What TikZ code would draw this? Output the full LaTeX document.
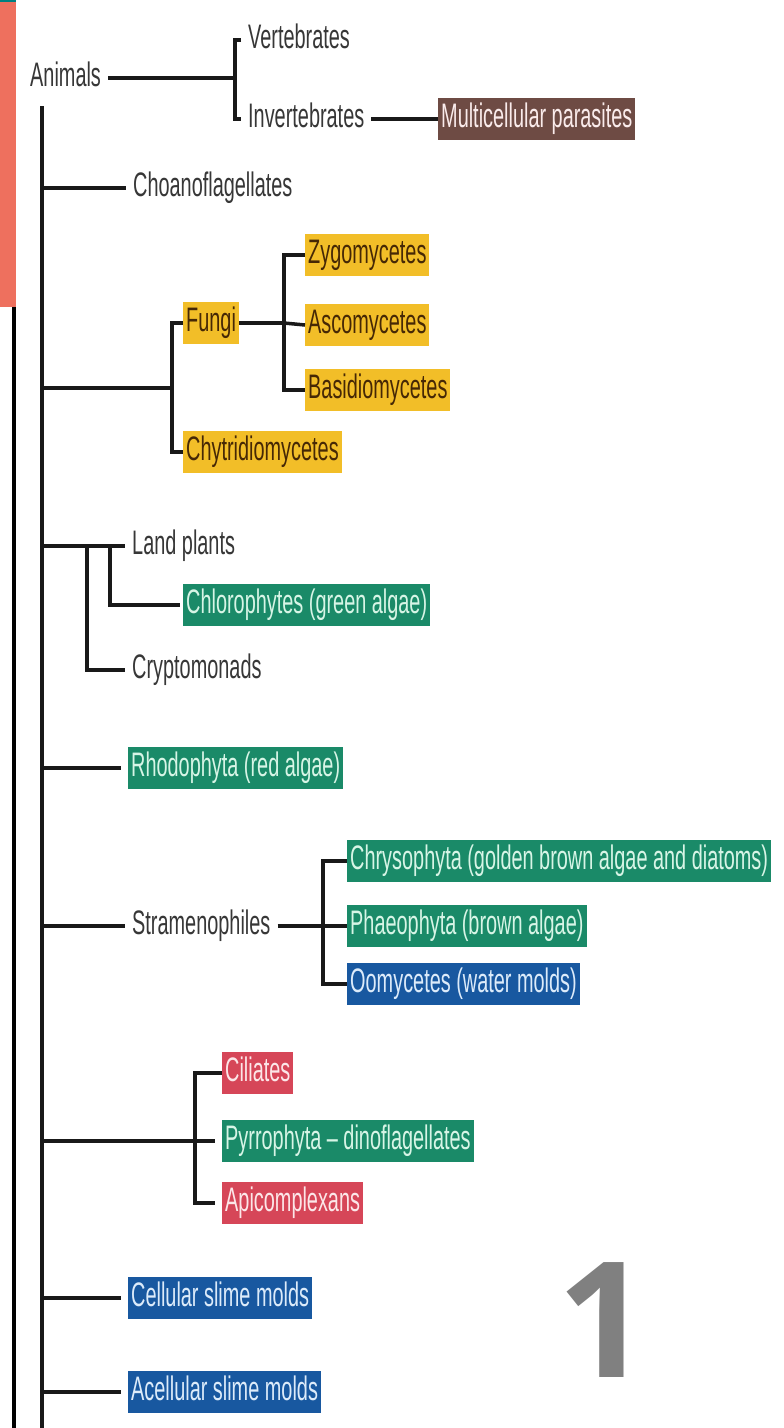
\documentclass[tikz,border=0pt]{standalone}
\usepackage{fontspec}
\setmainfont{Liberation Sans}[FakeStretch=0.585]
\newfontfamily\digitfont{Open Sans}
\definecolor{labelgray}{RGB}{55,55,55}
\definecolor{greenbox}{RGB}{26,138,104}
\definecolor{greentext}{RGB}{215,245,230}
\definecolor{bluebox}{RGB}{24,88,160}
\definecolor{bluetext}{RGB}{220,235,250}
\definecolor{redbox}{RGB}{214,70,88}
\definecolor{redtext}{RGB}{252,230,232}
\definecolor{goldbox}{RGB}{242,190,40}
\definecolor{goldtext}{RGB}{70,40,5}
\definecolor{brownbox}{RGB}{110,75,68}
\definecolor{browntext}{RGB}{250,235,235}
\definecolor{salmon}{RGB}{238,112,94}
\definecolor{digitgray}{RGB}{128,128,128}
\tikzset{
  lbl/.style={anchor=west, inner xsep=7pt, inner ysep=0pt, text height=24pt, text depth=7pt,
    text=labelgray, font=\fontsize{34}{34}\selectfont},
  tag/.style={lbl, inner xsep=3pt, inner ysep=5.5pt},
  greentag/.style={tag, fill=greenbox, text=greentext},
  bluetag/.style={tag, fill=bluebox, text=bluetext},
  redtag/.style={tag, fill=redbox, text=redtext},
  goldtag/.style={tag, fill=goldbox, text=goldtext},
  browntag/.style={tag, fill=brownbox, text=browntext},
  branch/.style={line width=3.5pt, draw=black!90},
  gap/.style={shorten >=7pt}
}
\begin{document}
\begin{tikzpicture}[x=1pt, y=-1pt]
\useasboundingbox (0,0) rectangle (784,1428);
\fill[white] (0,0) rectangle (784,1428);
% left strips
\fill[salmon] (0,0) rectangle (16,307);
\fill[teal] (0,0) rectangle (16,2);
\fill[black] (12,307) rectangle (16,1428);
% trunk
\coordinate (trunktop) at (42,106);
\coordinate (trunkbot) at (42,1428);
\draw[branch] (trunktop) -- (trunkbot);
% animals
\node[lbl] (animals) at (23,78) {Animals};
\coordinate (aj) at (235,78);
\node[lbl] (vert) at (241,40) {Vertebrates};
\node[lbl] (invert) at (241,119) {Invertebrates};
\node[browntag] (para) at (438,119) {Multicellular parasites};
\draw[branch] (animals.east) -- (aj);
\draw[branch] (vert.west) -| (aj) |- (invert.west);
\draw[branch] (invert.east) -- (para.west);
% choanoflagellates
\node[lbl] (choano) at (126,188) {Choanoflagellates};
\draw[branch] (42,188) -- (choano.west);
% fungi
\coordinate (fj) at (172,388);
\node[goldtag] (fungi) at (183,323) {Fungi};
\node[goldtag] (chytr) at (183,452) {Chytridiomycetes};
\draw[branch] (42,388) -- (fj);
\draw[branch] (fungi.west) -| (fj) |- (chytr.west);
\coordinate (fk) at (284,323);
\node[goldtag] (zygo) at (305,255) {Zygomycetes};
\node[goldtag] (asco) at (305,325) {Ascomycetes};
\node[goldtag] (basid) at (305,390) {Basidiomycetes};
\draw[branch] (fungi.east) -- (fk);
\draw[branch] (zygo.west) -| (fk) |- (basid.west);
\draw[branch] (fk) -- (asco.west);
% plants
\coordinate (lj) at (42,546);
\coordinate (lk) at (87,546);
\coordinate (ll) at (110,546);
\node[lbl] (land) at (125,546) {Land plants};
\node[greentag] (chloro) at (183,605) {Chlorophytes (green algae)};
\node[lbl] (crypto) at (125,670) {Cryptomonads};
\draw[branch] (lj) -- (land.west);
\draw[branch] (lk) |- (crypto.west);
\draw[branch, shorten >=3pt] (ll) |- (chloro.west);
% red algae
\node[greentag] (rhodo) at (128,768) {Rhodophyta (red algae)};
\draw[branch, gap] (42,768) -- (rhodo.west);
% stramenophiles
\node[lbl] (strameno) at (125,926) {Stramenophiles};
\coordinate (sj) at (323,926);
\node[greentag] (chryso) at (347,861) {Chrysophyta (golden brown algae and diatoms)};
\node[greentag] (phaeo) at (347,926) {Phaeophyta (brown algae)};
\node[bluetag] (oomy) at (347,984) {Oomycetes (water molds)};
\draw[branch] (42,926) -- (strameno.west);
\draw[branch] (strameno.east) -- (phaeo.west);
\draw[branch] (chryso.west) -| (sj) |- (oomy.west);
% alveolates
\coordinate (cj) at (195,1141);
\node[redtag] (cilia) at (222,1073) {Ciliates};
\node[greentag] (pyrro) at (222,1141) {Pyrrophyta – dinoflagellates};
\node[redtag] (apico) at (222,1203) {Apicomplexans};
\draw[branch] (42,1141) -- (cj);
\draw[branch, gap] (cilia.west) -| (cj) |- (apico.west);
\draw[branch, gap] (cj) -- (pyrro.west);
% slime molds
\node[bluetag] (cellular) at (128,1298) {Cellular slime molds};
\node[bluetag] (acellular) at (128,1392) {Acellular slime molds};
\draw[branch, gap] (42,1298) -- (cellular.west);
\draw[branch, gap] (42,1392) -- (acellular.west);
%page number
\node[font=\digitfont\bfseries\fontsize{161}{161}\selectfont, text=digitgray, inner sep=0pt, text depth=0pt, anchor=base] (pagenum) at (603,1377) {1};
\end{tikzpicture}
\end{document}
